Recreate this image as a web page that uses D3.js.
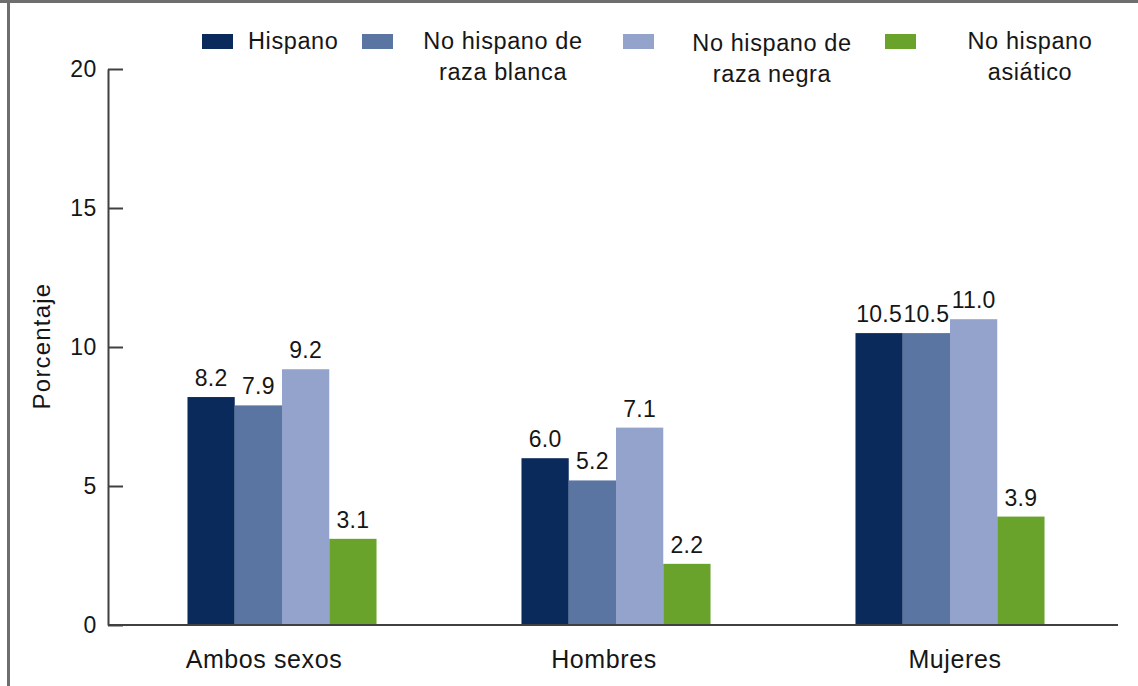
<!DOCTYPE html>
<html lang="es">
    <head>
        <meta charset="utf-8">
        <title>Porcentaje por sexo y origen</title>
        <script type="text/javascript" src="https://d3js.org/d3.v7.min.js"></script>
        <style>
            body {
              margin: 0;
              background-color: white;
            }
            text {
              font-family: 'Liberation Sans', Arial, sans-serif;
              fill: #161616;
              letter-spacing: 0.6px;
            }
            .frame{
              stroke: #6e6e6e;
              stroke-width: 3;
            }
            .y-axis path, .y-axis line, .baseline{
              stroke: #404040;
              stroke-width: 2;
            }
            .y-axis text{
              font-size: 23px;
            }
            .value{
              font-size: 23px;
              letter-spacing: 0.2px;
            }
            .category{
              font-size: 25px;
            }
            .legend-text{
              font-size: 23.5px;
            }
            .y-title{
              font-size: 24px;
              letter-spacing: 1.2px;
            }
        </style>
    </head>
    <body>
        <script type="text/javascript">
          var width = 1138;
          var height = 686;

          var categories = ['Ambos sexos', 'Hombres', 'Mujeres'];
          var series = ['Hispano', 'No hispano de raza blanca', 'No hispano de raza negra', 'No hispano asiático'];
          var legendLines = [['Hispano'], ['No hispano de', 'raza blanca'], ['No hispano de', 'raza negra'], ['No hispano', 'asiático']];
          var hispano = [8.2, 6.0, 10.5];
          var blanca = [7.9, 5.2, 10.5];
          var negra = [9.2, 7.1, 11.0];
          var asiatico = [3.1, 2.2, 3.9];
          var yTicks = [0, 5, 10, 15, 20];
          var colors = ['#0b2a5c', '#5a75a2', '#94a3cb', '#69a32c'];
          var yTitle = 'Porcentaje';

          var seriesValues = [hispano, blanca, negra, asiatico];

          var svg = d3.select('body').append('svg')
                .attr('width', width)
                .attr('height', height);

          // border of the original picture (top and left only)
          svg.append('line').attr('class', 'frame')
            .attr('x1', 0).attr('x2', width).attr('y1', 1.5).attr('y2', 1.5);
          svg.append('line').attr('class', 'frame')
            .attr('x1', 8.5).attr('x2', 8.5).attr('y1', 0).attr('y2', height);

          var y = d3.scaleLinear().domain([0, 20]).range([625, 69]);
          var x0 = d3.scaleBand().domain(categories).range([115, 1117])
                .paddingInner(0.434).paddingOuter(0.217);
          var x1 = d3.scaleBand().domain(series).range([0, x0.bandwidth()]);
          var color = d3.scaleOrdinal().domain(series).range(colors);

          // flatten into one entry per bar
          var bars = [];
          for (var i = 0; i < categories.length; i++){
            for (var j = 0; j < series.length; j++){
              bars.push({cat: categories[i], ser: series[j], value: seriesValues[j][i]});
            }
          }

          svg.selectAll('.bar')
            .data(bars)
            .enter()
            .append('rect')
            .attr('class', 'bar')
            .attr('x', function(d){ return x0(d.cat) + x1(d.ser); })
            .attr('y', function(d){ return y(d.value); })
            .attr('width', x1.bandwidth())
            .attr('height', function(d){ return y(0) - y(d.value); })
            .style('fill', function(d){ return color(d.ser); });

          svg.selectAll('.value')
            .data(bars)
            .enter()
            .append('text')
            .attr('class', 'value')
            .attr('text-anchor', 'middle')
            .attr('x', function(d){ return x0(d.cat) + x1(d.ser) + x1.bandwidth()/2; })
            .attr('y', function(d){ return y(d.value) - 11; })
            .text(function(d){ return d.value.toFixed(1); });

          // y axis, ticks pointing inward
          svg.append('g')
            .attr('class', 'y-axis')
            .attr('transform', 'translate(108,0)')
            .call(d3.axisLeft(y).tickValues(yTicks).tickSizeInner(-15).tickSizeOuter(0).tickPadding(11))
            .selectAll('text').style('fill', '#161616');

          svg.append('line')
            .attr('class', 'baseline')
            .attr('x1', 108)
            .attr('x2', 1118)
            .attr('y1', y(0))
            .attr('y2', y(0));

          // category labels are not exactly centred under their groups
          var labelShift = [-18, -12, 5];
          svg.selectAll('.category')
            .data(categories)
            .enter()
            .append('text')
            .attr('class', 'category')
            .attr('text-anchor', 'middle')
            .attr('x', function(d, i){ return x0(d) + x0.bandwidth()/2 + labelShift[i]; })
            .attr('y', 668)
            .text(function(d){ return d; });

          svg.append('text')
            .attr('class', 'y-title')
            .attr('text-anchor', 'middle')
            .attr('transform', 'translate(50,346) rotate(-90)')
            .text(yTitle);

          // legend
          var swatchX = [202, 362, 623, 885];
          var textX = [248, 503, 772, 1030];
          var legend = svg.selectAll('.legend')
            .data(series)
            .enter()
            .append('g')
            .attr('class', 'legend');

          legend.append('rect')
            .attr('x', function(d, i){ return swatchX[i]; })
            .attr('y', 34)
            .attr('width', 31)
            .attr('height', 15)
            .style('fill', function(d){ return color(d); });

          legend.append('text')
            .attr('class', 'legend-text')
            .attr('text-anchor', function(d, i){ return i === 0 ? 'start' : 'middle'; })
            .attr('x', function(d, i){ return textX[i]; })
            .attr('y', function(d, i){ return i === 2 ? 51 : 49; })
            .selectAll('tspan')
            .data(function(d, i){ return legendLines[i]; })
            .enter()
            .append('tspan')
            .attr('x', function(){ return d3.select(this.parentNode).attr('x'); })
            .attr('dy', function(d, k){ return k === 0 ? 0 : 31; })
            .text(function(d){ return d; });
        </script>
    </body>
</html>
